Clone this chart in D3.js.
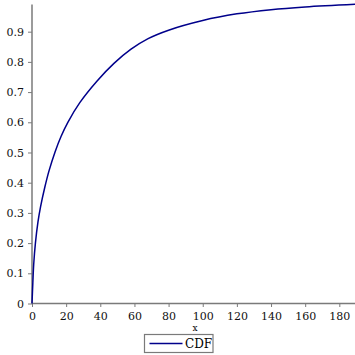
<!DOCTYPE html>
<html>
<head>
<meta charset="utf-8">
<script src="https://cdn.jsdelivr.net/npm/d3@7"></script>
<style>
  html, body { margin: 0; padding: 0; background: #fff; }
  svg { display: block; font-family: "DejaVu Serif", serif; }
</style>
</head>
<body>
<div id="chart"></div>
<script>
// values
const xValues = [0, 0.5, 1, 2, 3.5, 5, 7.5, 10, 13.5, 17, 21, 28, 38, 48, 58, 68, 80, 100, 120, 140, 160, 190];
const cdfValues = [0, 0.07, 0.13, 0.2, 0.27, 0.32, 0.385, 0.44, 0.502, 0.553, 0.6, 0.665, 0.736, 0.795, 0.842, 0.877, 0.905, 0.937, 0.959, 0.973, 0.982, 0.991];
const xTicks = [0, 20, 40, 60, 80, 100, 120, 140, 160, 180];
const xMinorTicks = [10, 30, 50, 70, 90, 110, 130, 150, 170, 190];
const yTicks = [0, 0.1, 0.2, 0.3, 0.4, 0.5, 0.6, 0.7, 0.8, 0.9];
const yMinorTicks = [0.05, 0.15, 0.25, 0.35, 0.45, 0.55, 0.65, 0.75, 0.85, 0.95];
const seriesName = "CDF";
const xLabel = "x";

const width = 355, height = 355;
const svg = d3.select("#chart").append("svg")
    .attr("width", width)
    .attr("height", height);

const x = d3.scaleLinear().domain([0, 190]).range([32, 356.4]);
const y = d3.scaleLinear().domain([0, 0.99]).range([303.5, 4.5]);

const axisColor = "#7a7a7a";

// x axis
const gx = svg.append("g").attr("transform", `translate(0,${y(0)})`);
gx.call(d3.axisBottom(x).tickValues(xMinorTicks).tickSize(2).tickFormat(""));
gx.call(d3.axisBottom(x).tickValues(xTicks).tickSize(3.5).tickPadding(5).tickFormat(d3.format("d")));
gx.selectAll(".domain").remove();
gx.append("line").attr("x1", x(0)).attr("x2", width).attr("stroke", axisColor).attr("stroke-width", 1.5);
gx.selectAll(".tick line").attr("stroke", axisColor).attr("stroke-width", 1);
gx.selectAll(".tick text").attr("fill", "#111").style("font-size", "11px").style("font-family", "DejaVu Serif, serif");

// y axis
const gy = svg.append("g").attr("transform", `translate(${x(0)},0)`);
gy.call(d3.axisLeft(y).tickValues(yMinorTicks).tickSize(2).tickFormat(""));
gy.call(d3.axisLeft(y).tickValues(yTicks).tickSize(4).tickPadding(4).tickFormat(d => d === 0 ? "0" : d3.format(".1f")(d)));
gy.selectAll(".domain").remove();
gy.append("line").attr("y1", y(0)).attr("y2", y(0.99)).attr("stroke", axisColor).attr("stroke-width", 1.5);
gy.selectAll(".tick line").attr("stroke", axisColor).attr("stroke-width", 1);
gy.selectAll(".tick text").attr("fill", "#111").style("font-size", "11px").style("font-family", "DejaVu Serif, serif");

// axis label
svg.append("text")
    .attr("x", 195).attr("y", 331)
    .attr("text-anchor", "middle")
    .style("font-size", "9px")
    .text(xLabel);

// curve
const data = xValues.map((d, i) => ({x: d, y: cdfValues[i]}));
svg.append("path")
    .datum(data)
    .attr("fill", "none")
    .attr("stroke", "#00008b")
    .attr("stroke-width", 1.5)
    .attr("d", d3.line().x(d => x(d.x)).y(d => y(d.y)).curve(d3.curveCatmullRom.alpha(0.5)));

// legend
const lg = svg.append("g");
lg.append("rect")
    .attr("x", 144.5).attr("y", 334.5).attr("width", 68.5).attr("height", 18)
    .attr("fill", "#fff").attr("stroke", axisColor).attr("stroke-width", 1.2);
lg.append("line")
    .attr("x1", 149.5).attr("x2", 182.5).attr("y1", 343.5).attr("y2", 343.5)
    .attr("stroke", "#00008b").attr("stroke-width", 1.5);
lg.append("text")
    .attr("x", 185).attr("y", 348)
    .style("font-size", "12px")
    .text(seriesName);
</script>
</body>
</html>
